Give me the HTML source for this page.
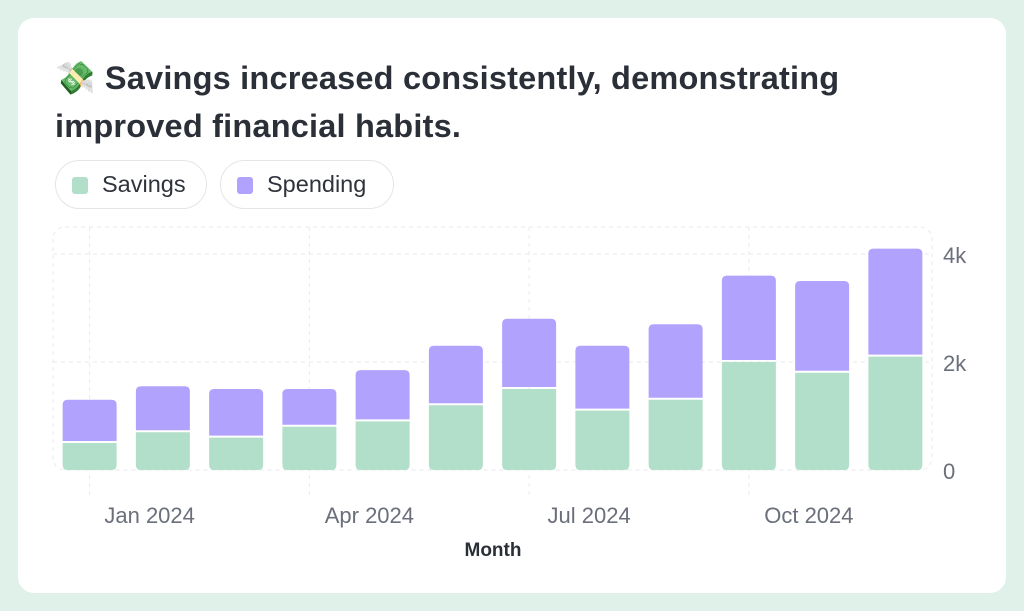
<!DOCTYPE html>
<html><head><meta charset="utf-8">
<style>
html,body{margin:0;padding:0;width:1024px;height:611px;background:#e0f1e9;overflow:hidden;font-family:"Liberation Sans",sans-serif}
.card{position:absolute;left:18px;top:18px;width:988px;height:575px;background:#fff;border-radius:16px}
.title{position:absolute;left:37px;top:36px;width:840px;font-size:32.5px;font-weight:bold;color:#2b2f38;line-height:48px;letter-spacing:0.2px}
.pill{position:absolute;top:142px;height:49px;border:1.5px solid #e3e5e8;border-radius:26px;box-sizing:border-box;font-size:23.5px;color:#2f333b;line-height:46px}
.sw{position:absolute;left:16px;top:16px;width:16px;height:17px;border-radius:3px}
svg{position:absolute;left:0;top:0}
</style></head><body>
<div class="card">
<div class="title">💸 Savings increased consistently, demonstrating improved financial habits.</div>
<div class="pill" style="left:37px;width:152px"><span class="sw" style="background:#b2dfca"></span><span style="position:absolute;left:46px">Savings</span></div>
<div class="pill" style="left:202px;width:174px"><span class="sw" style="background:#b1a3fd"></span><span style="position:absolute;left:46px">Spending</span></div>
</div>
<svg id="chart" width="1024" height="611"></svg>
<script>
const months=["Jan 2024","Feb 2024","Mar 2024","Apr 2024","May 2024","Jun 2024","Jul 2024","Aug 2024","Sep 2024","Oct 2024","Nov 2024","Dec 2024"];
const savings=[500,700,600,800,900,1200,1500,1100,1300,2000,1800,2100];
const spending=[800,850,900,700,950,1100,1300,1200,1400,1600,1700,2000];
const yTicks=[0,2000,4000];
const yTickLabels=["0","2k","4k"];
const xTickIdx=[0,3,6,9];

const NS="http://www.w3.org/2000/svg";
const svg=document.getElementById('chart');
const x0=53,x1=932,yTop=227,yBase=470,k=108/2000;
const band=(x1-x0)/months.length,bw=54;
const y=v=>yBase-v*k;
const xc=i=>x0+band*(i+0.5);
function mk(t,a){const e=document.createElementNS(NS,t);for(const n in a)e.setAttribute(n,a[n]);svg.appendChild(e);return e;}
let e=mk('rect',{x:x0,y:yTop,width:x1-x0,height:yBase-yTop,rx:12,fill:'none',stroke:'#e9eaec','stroke-dasharray':'4 4'});


yTicks.forEach((v,i)=>{
 if(v>0){const l=mk('line',{x1:x0,x2:x1,y1:y(v),y2:y(v),stroke:'#e9eaec','stroke-dasharray':'4 4'});
 
 }
 const t=mk('text',{x:943,y:y(v)+9,'font-size':'22',fill:'#6b6f7b'});t.textContent=yTickLabels[i];
 
 
});
xTickIdx.forEach(i=>{
 const l=mk('line',{x1:xc(i),x2:xc(i),y1:yTop,y2:497,stroke:'#e9eaec','stroke-dasharray':'4 4'});
 
 
 const t=mk('text',{x:xc(i)+60,y:523,'font-size':'22',fill:'#6b6f7b','text-anchor':'middle'});t.textContent=months[i];
 
 
});
months.forEach((m,i)=>{
 const bx=xc(i)-bw/2;
 const s=savings[i],p=spending[i];
 const g=mk('path',{d:`M${bx},${y(s)}h${bw}v${y(0)-y(s)-5}q0,5 -5,5h${-bw+10}q-5,0 -5,-5z`,fill:'#b2dfca'});
 
 
 const top=y(s+p),h=y(s)-top-2;
 const q=mk('path',{d:`M${bx},${top+5}q0,-5 5,-5h${bw-10}q5,0 5,5v${h-5}h${-bw}z`,fill:'#b1a3fd'});
 
 
});
const at=mk('text',{x:493,y:556,'font-size':'19','font-weight':'bold',fill:'#2b2f38','text-anchor':'middle'});at.textContent='Month';


</script>
</body></html>
